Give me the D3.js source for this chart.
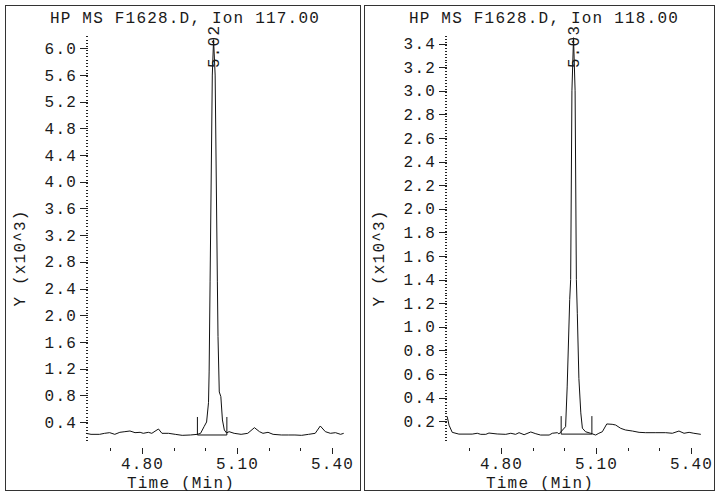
<!DOCTYPE html>
<html>
<head>
<meta charset="utf-8">
<script src="https://cdn.jsdelivr.net/npm/d3@7"></script>
<style>
body { margin: 0; background: #fff; }
text { font-family: "Liberation Mono", "DejaVu Sans Mono", monospace; font-size: 16px; fill: #1a1a1a; letter-spacing: 1.2px; }
.trace { fill: none; stroke: #111; stroke-width: 1; }
.frame { fill: none; stroke: #333; stroke-width: 1; shape-rendering: crispEdges; }
.tick line { stroke: #222; shape-rendering: crispEdges; }
</style>
</head>
<body>
<svg id="chart" width="719" height="495"></svg>
<script>
// ion 117 trace (time in min, abundance x10^3)
var ion117Time = [4.623, 4.639, 4.666, 4.682, 4.698, 4.714, 4.730, 4.746, 4.762, 4.778, 4.794, 4.804, 4.820, 4.831, 4.852, 4.863, 4.884, 4.905, 4.927, 4.953,
    4.975, 4.985, 4.996, 5.004, 5.010, 5.012, 5.015, 5.022, 5.026, 5.031, 5.038, 5.040, 5.044, 5.049, 5.054, 5.060, 5.067, 5.075, 5.091, 5.113,
    5.134, 5.155, 5.171, 5.182, 5.198, 5.214, 5.240, 5.262, 5.283, 5.304, 5.326, 5.347, 5.363, 5.379, 5.395, 5.411, 5.427, 5.437];
var ion117Abund = [0.23, 0.215, 0.215, 0.23, 0.24, 0.215, 0.245, 0.255, 0.265, 0.24, 0.245, 0.23, 0.245, 0.23, 0.295, 0.23, 0.23, 0.215, 0.20, 0.205,
    0.215, 0.23, 0.33, 0.40, 0.69, 1.15, 2.5, 5.6, 6.13, 5.6, 2.5, 1.68, 0.85, 0.78, 0.43, 0.28, 0.235, 0.255, 0.23, 0.215,
    0.23, 0.315, 0.255, 0.23, 0.245, 0.215, 0.205, 0.205, 0.205, 0.20, 0.215, 0.23, 0.34, 0.255, 0.23, 0.24, 0.215, 0.23];

// ion 118 trace
var ion118Time = [4.630, 4.636, 4.646, 4.667, 4.709, 4.725, 4.736, 4.752, 4.762, 4.788, 4.815, 4.831, 4.846, 4.857, 4.873, 4.894, 4.910, 4.925, 4.952, 4.962,
    4.978, 4.983, 5.004, 5.009, 5.017, 5.020, 5.024, 5.029, 5.034, 5.038, 5.041, 5.046, 5.052, 5.057, 5.067, 5.083, 5.099, 5.109, 5.120, 5.134,
    5.151, 5.162, 5.178, 5.193, 5.215, 5.236, 5.257, 5.289, 5.320, 5.341, 5.362, 5.378, 5.394, 5.409, 5.431];
var ion118Abund = [0.24, 0.165, 0.105, 0.09, 0.09, 0.097, 0.088, 0.088, 0.099, 0.091, 0.088, 0.097, 0.088, 0.102, 0.085, 0.108, 0.093, 0.082, 0.082, 0.097,
    0.102, 0.091, 0.153, 0.49, 1.23, 1.40, 3.0, 3.45, 3.0, 1.40, 1.11, 0.56, 0.27, 0.14, 0.11, 0.097, 0.082, 0.097, 0.11, 0.176,
    0.173, 0.167, 0.139, 0.125, 0.116, 0.105, 0.102, 0.102, 0.102, 0.097, 0.116, 0.097, 0.105, 0.097, 0.088];

var ion117Ticks = [0.4, 0.8, 1.2, 1.6, 2.0, 2.4, 2.8, 3.2, 3.6, 4.0, 4.4, 4.8, 5.2, 5.6, 6.0];
var ion118Ticks = [0.2, 0.4, 0.6, 0.8, 1.0, 1.2, 1.4, 1.6, 1.8, 2.0, 2.2, 2.4, 2.6, 2.8, 3.0, 3.2, 3.4];
var timeLabels = [4.80, 5.10, 5.40];
var timeMinor = [4.70, 4.80, 4.90, 5.00, 5.10, 5.20, 5.30, 5.40];

var titles = ["HP MS F1628.D, Ion 117.00", "HP MS F1628.D, Ion 118.00"];
var rtLabels = ["5.02", "5.03"];
var rtTimes = [5.026, 5.029];
// integration marks: start, end, baseline level
var integ117 = [4.975, 5.068, 0.205];
var integ118 = [4.990, 5.087, 0.09];

var svg = d3.select("#chart");

function clearFont(sel) {
    sel.attr("font-size", null).attr("font-family", null);
}

function drawPanel(ox, width, o) {
    var g = svg.append("g");
    g.append("rect").attr("class", "frame")
        .attr("x", ox + 0.5).attr("y", 5.5).attr("width", width).attr("height", 485);

    var x = d3.scaleLinear().domain([4.8, 5.4]).range([ox + 137, ox + 327]);
    var y = d3.scaleLinear().domain(o.yDomain).range([440, 33]);
    var axisX = ox + 83;

    // y axis: dotted minor ticks + major ticks with labels
    var minor = d3.range(o.yDomain[0], o.yDomain[1], o.minorStep);
    var minorAxis = g.append("g").attr("transform", "translate(" + axisX + ",0)")
        .call(d3.axisLeft(y).tickValues(minor).tickSize(2).tickFormat(""));
    minorAxis.select(".domain").remove();
    var yAxis = g.append("g").attr("transform", "translate(" + axisX + ",0)")
        .call(d3.axisLeft(y).tickValues(o.yTicks).tickSize(8).tickPadding(3).tickFormat(d3.format(".1f")));
    yAxis.select(".domain").remove();
    clearFont(yAxis);

    // x axis ticks
    var xMinor = g.append("g").attr("transform", "translate(0,448)")
        .call(d3.axisBottom(x).tickValues(timeMinor).tickSize(3).tickFormat(""));
    xMinor.select(".domain").remove();
    var xAxis = g.append("g").attr("transform", "translate(0,448)")
        .call(d3.axisBottom(x).tickValues(timeLabels).tickSize(6).tickPadding(4).tickFormat(d3.format(".2f")));
    xAxis.select(".domain").remove();
    clearFont(xAxis);

    // trace
    var pts = o.time.map(function(t, i) { return [t, o.abund[i]]; });
    var line = d3.line().x(function(d) { return x(d[0]); }).y(function(d) { return y(d[1]); });
    g.append("path").attr("class", "trace").attr("d", line(pts));

    // integration baseline and start/stop marks
    var base = y(o.integ[2]);
    g.append("line").attr("class", "trace")
        .attr("x1", x(o.integ[0])).attr("x2", x(o.integ[1])).attr("y1", base).attr("y2", base);
    [o.integ[0], o.integ[1]].forEach(function(t) {
        g.append("line").attr("class", "trace")
            .attr("x1", x(t)).attr("x2", x(t)).attr("y1", base).attr("y2", base - 18);
    });

    // texts
    g.append("text").attr("x", ox + 180).attr("y", 23).attr("text-anchor", "middle").text(o.title);
    g.append("text").attr("transform", "translate(" + (ox + 20) + ",258) rotate(-90)")
        .attr("text-anchor", "middle").text("Y (x10^3)");
    g.append("text").attr("x", ox + 176).attr("y", 488).attr("text-anchor", "middle").text("Time (Min)");
    g.append("text").attr("transform", "translate(" + (x(o.rt) + 5) + ",68) rotate(-90)")
        .text(o.rtLabel);
}

drawPanel(5, 355, {
    title: titles[0], time: ion117Time, abund: ion117Abund, yDomain: [0.13, 6.23], minorStep: 0.05,
    yTicks: ion117Ticks, integ: integ117, rt: rtTimes[0], rtLabel: rtLabels[0]
});
drawPanel(364, 350, {
    title: titles[1], time: ion118Time, abund: ion118Abund, yDomain: [0.04, 3.49], minorStep: 0.025,
    yTicks: ion118Ticks, integ: integ118, rt: rtTimes[1], rtLabel: rtLabels[1]
});
</script>
</body>
</html>
